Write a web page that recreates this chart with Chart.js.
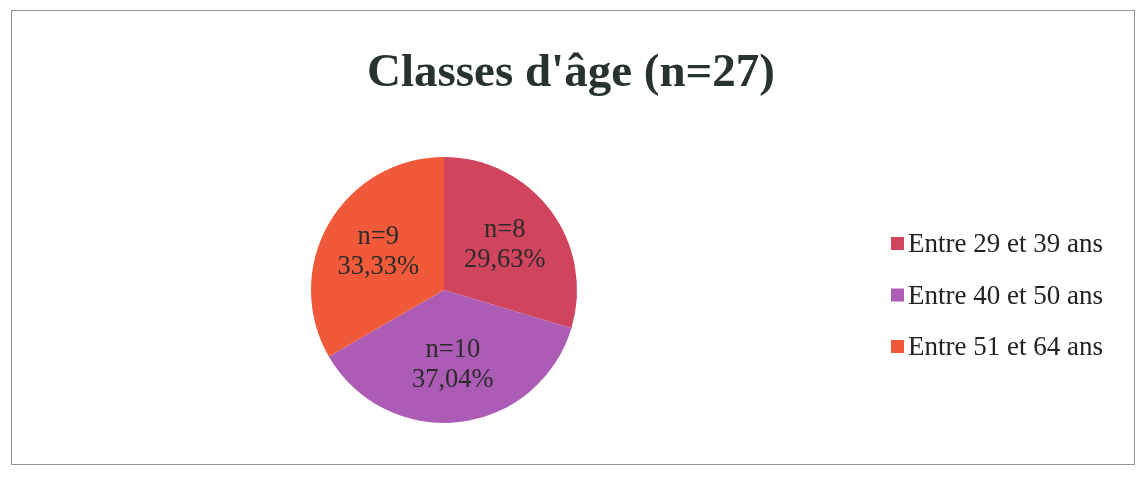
<!DOCTYPE html>
<html>
<head>
<meta charset="utf-8">
<script src="https://cdn.jsdelivr.net/npm/chart.js@4/dist/chart.umd.min.js"></script>
<style>
  html, body { margin: 0; padding: 0; background: #fff; }
  #wrap { position: relative; width: 1142px; height: 480px; }
  #frame { position: absolute; left: 11px; top: 10px; width: 1124px; height: 455px; border: 1.5px solid #8a9598; box-sizing: border-box; }
  #title { position: absolute; left: 0; top: 43px; width: 1142px; text-align: center;
    font-family: "Liberation Serif", "DejaVu Serif", serif; font-weight: bold; font-size: 47px; color: #27332f; }
</style>
</head>
<body>
<div id="wrap">
  <div id="frame"></div>
  <div id="title">Classes d'âge (n=27)</div>
  <canvas id="pieChart" width="1142" height="480"></canvas>
</div>
<script>
// Data
const categories = ["Entre 29 et 39 ans", "Entre 40 et 50 ans", "Entre 51 et 64 ans"];
const counts = [8, 10, 9];
const colors = ["#d0445e", "#ad5cb6", "#f05a3a"];

const total = counts.reduce((a, b) => a + b, 0);
const serif = '"Liberation Serif", "DejaVu Serif", serif';

// labels inside the slices: n and percentage
const sliceLabels = {
  id: 'sliceLabels',
  afterDatasetsDraw(chart) {
    const ctx = chart.ctx;
    const meta = chart.getDatasetMeta(0);
    ctx.save();
    ctx.font = '26.5px ' + serif;
    ctx.fillStyle = '#2b2b2b';
    ctx.textAlign = 'center';
    ctx.textBaseline = 'middle';
    meta.data.forEach((arc, i) => {
      const p = arc.getProps(['x', 'y', 'startAngle', 'endAngle', 'outerRadius']);
      const mid = (p.startAngle + p.endAngle) / 2;
      const r = p.outerRadius * 0.57;
      const x = p.x + Math.cos(mid) * r;
      const y = p.y + Math.sin(mid) * r;
      const pct = (counts[i] / total * 100).toFixed(2).replace('.', ',') + '%';
      ctx.fillText('n=' + counts[i], x, y - 15);
      ctx.fillText(pct, x, y + 15);
    });
    ctx.restore();
  }
};

// legend on the right
const sideLegend = {
  id: 'sideLegend',
  afterDraw(chart) {
    const ctx = chart.ctx;
    ctx.save();
    ctx.font = '27px ' + serif;
    ctx.textBaseline = 'middle';
    chart.data.labels.forEach((lab, i) => {
      const y = 245 + i * 51.5;
      ctx.fillStyle = chart.data.datasets[0].backgroundColor[i];
      ctx.fillRect(891, y - 8, 13, 13);
      ctx.fillStyle = '#222';
      ctx.fillText(lab, 908, y);
    });
    ctx.restore();
  }
};

new Chart(document.getElementById('pieChart').getContext('2d'), {
  type: 'pie',
  data: {
    labels: categories,
    datasets: [{
      data: counts,
      backgroundColor: colors,
      borderWidth: 0
    }]
  },
  options: {
    responsive: false,
    animation: false,
    layout: { padding: { left: 311, right: 565, top: 157, bottom: 57 } },
    plugins: {
      legend: { display: false },
      tooltip: { enabled: false },
      title: { display: false }
    }
  },
  plugins: [sliceLabels, sideLegend]
});
</script>
</body>
</html>
